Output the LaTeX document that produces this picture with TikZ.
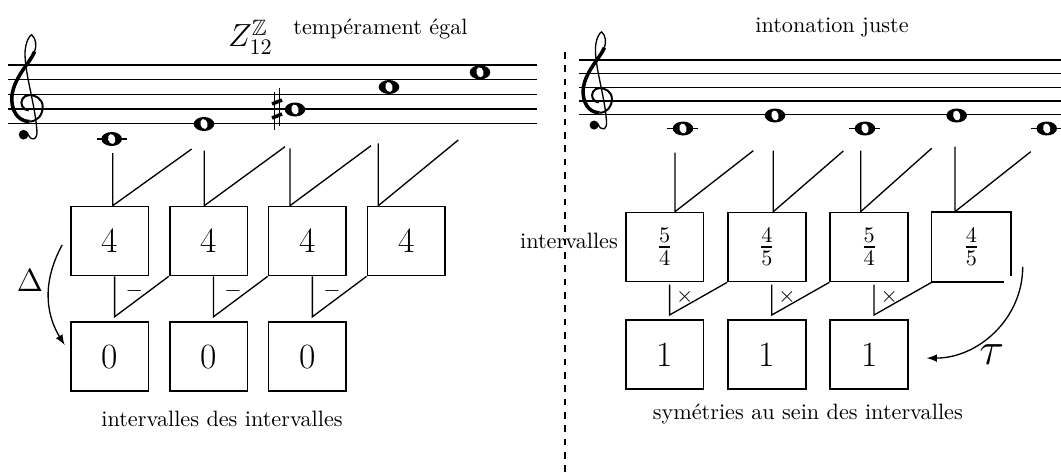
\documentclass[tikz,border=0pt]{standalone}
\usepackage{amssymb}
\usetikzlibrary{arrows,shapes,positioning}

\newcommand{\clesol}{%
  \draw[line width=0.6pt] (-0.05,-1.6) .. controls (0.2,-2.3) and (0.7,-2.1) .. (0.6,-1.4)
    .. controls (0.45,0.5) and (-0.25,2.5) .. (-0.2,3.9)
    .. controls (-0.15,4.6) and (0.1,5.0) .. (0.25,5.05)
    .. controls (0.55,4.8) and (0.6,4.3) .. (0.45,3.9);
  \draw[line width=1.6pt] (0.45,3.9) .. controls (0.2,3.2) and (-1.15,2.0) .. (-1.1,0.6)
    .. controls (-1.05,-0.5) and (-0.4,-0.85) .. (0.1,-0.85);
  \draw[line width=0.9pt] (0.1,-0.85) .. controls (0.65,-0.85) and (1.0,-0.4) .. (1.0,0.15)
    .. controls (1.0,0.7) and (0.5,0.95) .. (0.1,0.95)
    .. controls (-0.35,0.95) and (-0.55,0.5) .. (-0.4,0.2)
    .. controls (-0.3,0.0) and (-0.1,-0.1) .. (0.05,-0.1);
  \fill (-0.3,-1.75) circle (0.33);
}

\begin{document}
\begin{tikzpicture}[x=0.45pt,y=-0.45pt,
    block/.style={
      draw,
      shape=rectangle,
      align=center,
      minimum width=35pt,
      minimum height=31pt,
      node distance=44.5pt,
      font=\fontsize{16}{19}\selectfont,
      black,
      thick
    },
    link/.style={black,semithick},
    portee/.style={black,semithick},
    ronde/.pic={
      \fill (0,0) ellipse (10.3 and 7);
      \fill[white,rotate=15] (0,0) ellipse (3.6 and 5);
    }
    ]
    \useasboundingbox (0,0) rectangle (1061,475);

    % tempérament égal
    \draw[portee] (8,65) -- (537,65) (8,79.7) -- (537,79.7) (8,94.3) -- (537,94.3)
      (8,109) -- (537,109) (8,123.7) -- (537,123.7);
    \begin{scope}[shift={(28,109)},xscale=14.7,yscale=-14.7]
      \clesol
    \end{scope}
    \draw[portee] (96.7,139) -- (126.7,139);
    \pic at (111.7,139) {ronde};
    \pic at (204,124) {ronde};
    \pic at (295,109.5) {ronde};
    \pic at (389,87) {ronde};
    \pic at (480,72.3) {ronde};
    \draw[line width=0.5pt] (274.5,92) -- (274.5,130) (279.5,88) -- (279.5,126);
    \draw[line width=1.6pt] (272,104) -- (282,100) (272,118) -- (282,114);
    \node[anchor=base west,inner sep=0] (lZ) at (227.7,46.7) {\Large $Z^{\mathbb{Z}}_{12}$};
    \node[anchor=base west,inner sep=0] (lT) at (293,34.3) {tempérament égal};

    \node[block] (iA) at (109.7,241) {4};
    \node[block,right of=iA] (iB) {4};
    \node[block,right of=iB] (iC) {4};
    \node[block,right of=iC] (iD) {4};
    \node[block,below of=iA,node distance=52pt] (dA) {0};
    \node[block,right of=dA] (dB) {0};
    \node[block,right of=dB] (dC) {0};

    \coordinate (pA) at (112.7,153);   \coordinate (qA) at (191.7,149);
    \coordinate (pB) at (204.3,150.7); \coordinate (qB) at (285,146.7);
    \coordinate (pC) at (290,148.3);   \coordinate (qC) at (371,145.7);
    \coordinate (pD) at (378.3,143.3); \coordinate (qD) at (458.3,140);
    \draw[link] (pA) -- (pA |- iA.north) -- (qA);
    \draw[link] (pB) -- (pB |- iB.north) -- (qB);
    \draw[link] (pC) -- (pC |- iC.north) -- (qC);
    \draw[link] (pD) -- (pD |- iD.north) -- (qD);

    \draw[link] ([xshift=2.2pt]iA.south) -- ([xshift=2.2pt,yshift=2pt]dA.north) -- (iB.south west);
    \draw[link] ([xshift=2.2pt]iB.south) -- ([xshift=2.2pt,yshift=2pt]dB.north) -- (iC.south west);
    \draw[link] ([xshift=2.2pt]iC.south) -- ([xshift=2.2pt,yshift=2pt]dC.north) -- (iD.south west);
    \node (mA) at ([xshift=11pt,yshift=-6.5pt]iA.south) {$-$};
    \node (mB) at ([xshift=11pt,yshift=-6.5pt]iB.south) {$-$};
    \node (mC) at ([xshift=11pt,yshift=-6.5pt]iC.south) {$-$};

    \draw[->,semithick,>=latex] ([xshift=-3.5pt,yshift=-1.8pt]iA.west) to[bend right=30] ([xshift=-2.4pt,yshift=5.2pt]dA.west);
    \node (lDelta) at (30,281) {\Large $\Delta$};
    \node[anchor=base,inner sep=0] (lDiff) at (222,426) {intervalles des intervalles};

    % separation
    \draw[dashed,semithick] (565,52) -- (565,475);

    % intonation juste
    \draw[portee] (579,60) -- (1061,60) (579,73.7) -- (1061,73.7) (579,87.4) -- (1061,87.4)
      (579,101.1) -- (1061,101.1) (579,114.8) -- (1061,114.8);
    \begin{scope}[shift={(598.2,101.1)},xscale=13.7,yscale=-13.7]
      \clesol
    \end{scope}
    \draw[portee] (667.3,128.5) -- (698.3,128.5) (849.3,128.5) -- (880.3,128.5) (1031,128.5) -- (1061,128.5);
    \pic at (683,128.5) {ronde};
    \pic at (775,115.5) {ronde};
    \pic at (865,128.5) {ronde};
    \pic at (956.7,115.5) {ronde};
    \pic at (1046.7,128.5) {ronde};
    \node[anchor=base,inner sep=0] (lJ) at (832,32.3) {intonation juste};

    \node[block,font=\Large,node distance=46pt] (jA) at (664.7,247) {$\frac{5}{4}$};
    \node[block,font=\Large,node distance=46pt,right of=jA] (jB) {$\frac{4}{5}$};
    \node[block,font=\Large,node distance=46pt,right of=jB] (jC) {$\frac{5}{4}$};
    \node[block,font=\Large,node distance=46pt,right of=jC,draw=none] (jD) {$\frac{4}{5}$};
    \draw[thick] ([yshift=3pt]jD.south east) |- (jD.north west) |- ([xshift=-3.3pt]jD.south east);
    \node[block,below of=jA,node distance=48.5pt] (sA) {1};
    \node[block,node distance=46pt,right of=sA] (sB) {1};
    \node[block,node distance=46pt,right of=sB] (sC) {1};
    \node[anchor=base east,inner sep=0] (lI) at (618.3,248.3) {intervalles};

    \coordinate (pE) at (675,152.7);   \coordinate (qE) at (753.3,150.7);
    \coordinate (pF) at (773.3,150.7); \coordinate (qF) at (843.3,151);
    \coordinate (pG) at (860.7,150.7); \coordinate (qG) at (931.7,148.3);
    \coordinate (pH) at (955,146.7);   \coordinate (qH) at (1030.7,151.7);
    \draw[link] (pE) -- (pE |- jA.north) -- (qE);
    \draw[link] (pF) -- (pF |- jB.north) -- (qF);
    \draw[link] (pG) -- (pG |- jC.north) -- (qG);
    \draw[link] (pH) -- (pH |- jD.north) -- (qH);

    \draw[link] ([xshift=2.2pt,yshift=-1pt]jA.south) -- ([xshift=2.2pt,yshift=2pt]sA.north) -- (jB.south west);
    \draw[link] ([xshift=2.2pt,yshift=-1pt]jB.south) -- ([xshift=2.2pt,yshift=2pt]sB.north) -- (jC.south west);
    \draw[link] ([xshift=2.2pt,yshift=-1pt]jC.south) -- ([xshift=2.2pt,yshift=2pt]sC.north) -- (jD.south west);
    \node (xA) at ([xshift=9pt,yshift=-6.5pt]jA.south) {$\times$};
    \node (xB) at ([xshift=9pt,yshift=-6.5pt]jB.south) {$\times$};
    \node (xC) at ([xshift=9pt,yshift=-6.5pt]jC.south) {$\times$};

    \draw[->,semithick,>=latex] ([xshift=5.2pt,yshift=7pt]jD.south east) to[out=-90,in=0] ([xshift=8pt,yshift=-1.5pt]sC.east);
    \node (lTau) at (991.7,355) {\huge $\tau$};
    \node[anchor=base,inner sep=0] (lSym) at (807.8,419.3) {symétries au sein des intervalles};
  \end{tikzpicture}
\end{document}
